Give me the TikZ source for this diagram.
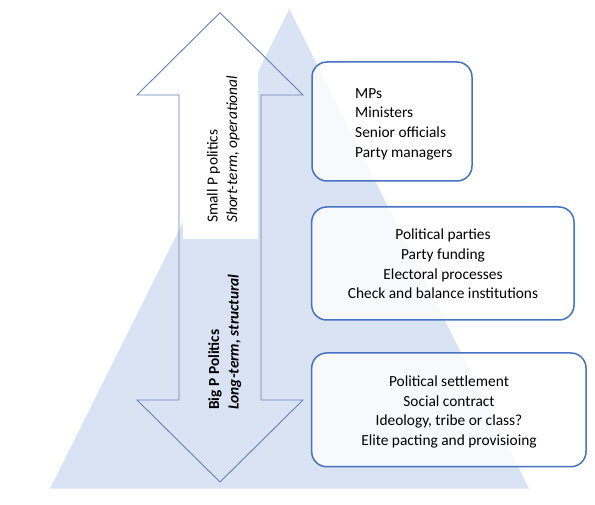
\documentclass[tikz,border=0pt]{standalone}
\usepackage{fontspec}
\setmainfont{Carlito}
\definecolor{tri}{HTML}{DAE3F3}
\definecolor{arrowline}{RGB}{100,128,185}
\definecolor{boxline}{HTML}{4472C4}
\begin{document}
\begin{tikzpicture}[x=1pt,y=-1pt,
  txt/.style={font=\fontsize{15.4}{19.6}\selectfont, inner sep=0pt, text=black},
  vtxt/.style={txt, rotate=90, anchor=base west},
  bx/.style={draw=boxline, line width=1.5pt, rounded corners=15pt, fill=white, fill opacity=0.8, inner sep=0pt}]
\useasboundingbox (0,0) rectangle (595,505);
% background pyramid
\fill[tri] (289.3,9) -- (50,488.7) -- (529,488.7) -- cycle;
% white label panel in the up arrow
\fill[white] (182.7,60) rectangle (258,239);
% double arrow outline
\draw[arrowline, line width=0.9pt, line join=miter]
  (220,12.7) -- (137,95) -- (179,95) -- (179,400) -- (137,400) -- (220,482)
  -- (303,400) -- (261,400) -- (261,95) -- (303,95) -- cycle;
% rotated labels
\node[vtxt] (small) at (217.5,223) {Small P politics};
\node[vtxt, font=\fontsize{15.4}{19.6}\selectfont\itshape] (short) at (237,223) {Short-term, operational};
\node[vtxt, font=\fontsize{15.4}{19.6}\selectfont\bfseries] (big) at (219,410) {Big P Politics};
\node[vtxt, font=\fontsize{15.4}{19.6}\selectfont\bfseries\itshape] (long) at (238.5,410) {Long-term, structural};
% boxes
\node[bx, minimum width=160pt, minimum height=119pt] (b1) at (392,121.5) {};
\node[bx, minimum width=262.3pt, minimum height=113pt] (b2) at (442.85,263.5) {};
\node[bx, minimum width=274.3pt, minimum height=113.7pt] (b3) at (448.85,409.85) {};
% box texts
\node[txt, anchor=base west] (t1) at (355,98.3) {\parbox[t]{150pt}{\raggedright MPs\\Ministers\\Senior officials\\Party managers}};
\node[txt, anchor=base] (t2) at (443,240) {\parbox[t]{260pt}{\centering Political parties\\Party funding\\Electoral processes\\Check and balance institutions}};
\node[txt, anchor=base] (t3) at (449,386.7) {\parbox[t]{270pt}{\centering Political settlement\\Social contract\\Ideology, tribe or class?\\Elite pacting and provisioing}};
\end{tikzpicture}
\end{document}
